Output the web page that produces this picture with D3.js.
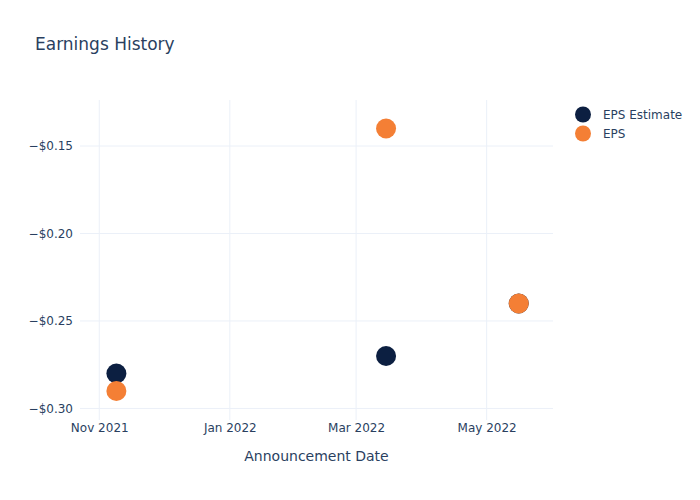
<!DOCTYPE html>
<html><head><meta charset="utf-8">
<script src="https://cdn.jsdelivr.net/npm/d3@7"></script>
<style>body{margin:0;background:#fff;} svg text{font-family:"DejaVu Sans",sans-serif;}</style>
</head><body>
<svg id="c" width="700" height="500"></svg>
<script>
const dates = ["2021-11-09", "2022-03-15", "2022-05-16"];
const epsEstimate = [-0.28, -0.27, -0.24];
const eps = [-0.29, -0.14, -0.24];
const seriesNames = ["EPS Estimate", "EPS"];
const seriesColors = ["#0c1f41", "#f47f35"];
const yTicks = [-0.30, -0.25, -0.20, -0.15];
const xTicks = ["2021-11-01", "2022-01-01", "2022-03-01", "2022-05-01"];
const xDomain = ["2021-10-23", "2022-06-01"];
const yDomain = [-0.3066, -0.1237];

const parse = d3.utcParse("%Y-%m-%d");
const svg = d3.select("#c");
const L = 80, R = 553, T = 100, B = 420;
const x = d3.scaleUtc().domain(xDomain.map(parse)).range([L, R]);
const y = d3.scaleLinear().domain(yDomain).range([B, T]);
const textColor = "#2a3f5f";
const gridColor = "#ebf0f8";

// grid
svg.append("g").selectAll("line").data(xTicks.map(parse)).join("line")
  .attr("x1", d => x(d)).attr("x2", d => x(d)).attr("y1", T).attr("y2", B)
  .attr("stroke", gridColor).attr("stroke-width", 1);
svg.append("g").selectAll("line").data(yTicks).join("line")
  .attr("x1", L).attr("x2", R).attr("y1", d => y(d)).attr("y2", d => y(d))
  .attr("stroke", gridColor).attr("stroke-width", 1);

// axes
const fmtY = v => "\u2212$" + Math.abs(v).toFixed(2);
const yAxis = d3.axisLeft(y).tickValues(yTicks).tickSize(0).tickPadding(7).tickFormat(fmtY);
const gy = svg.append("g").attr("transform", `translate(${L},0)`).call(yAxis);
gy.attr("font-family", null);
gy.select(".domain").remove();
gy.selectAll("text").attr("fill", textColor).style("font-size", "12px");

const fmtX = d3.utcFormat("%b %Y");
const xAxis = d3.axisBottom(x).tickValues(xTicks.map(parse)).tickSize(0).tickPadding(3).tickFormat(fmtX);
const gx = svg.append("g").attr("transform", `translate(0,${B})`).call(xAxis);
gx.attr("font-family", null);
gx.select(".domain").remove();
gx.selectAll("text").attr("fill", textColor).style("font-size", "12px");

// axis title
svg.append("text").attr("x", (L + R) / 2).attr("y", 461).attr("text-anchor", "middle")
  .attr("fill", textColor).style("font-size", "14px").text("Announcement Date");

// title
svg.append("text").attr("x", 35).attr("y", 50).attr("fill", textColor)
  .style("font-size", "17px").text("Earnings History");

// points
const series = [epsEstimate, eps];
series.forEach((vals, i) => {
  svg.append("g").selectAll("circle").data(vals).join("circle")
    .attr("cx", (d, j) => x(parse(dates[j])))
    .attr("cy", d => y(d))
    .attr("r", 10)
    .attr("fill", seriesColors[i]);
});

// legend
const lg = svg.append("g");
seriesNames.forEach((n, i) => {
  const ly = 114.5 + i * 19;
  lg.append("circle").attr("cx", 583).attr("cy", ly).attr("r", 8).attr("fill", seriesColors[i]);
  lg.append("text").attr("x", 603).attr("y", ly + 4.5).attr("fill", textColor)
    .style("font-size", "12px").text(n);
});
</script>
</body></html>
